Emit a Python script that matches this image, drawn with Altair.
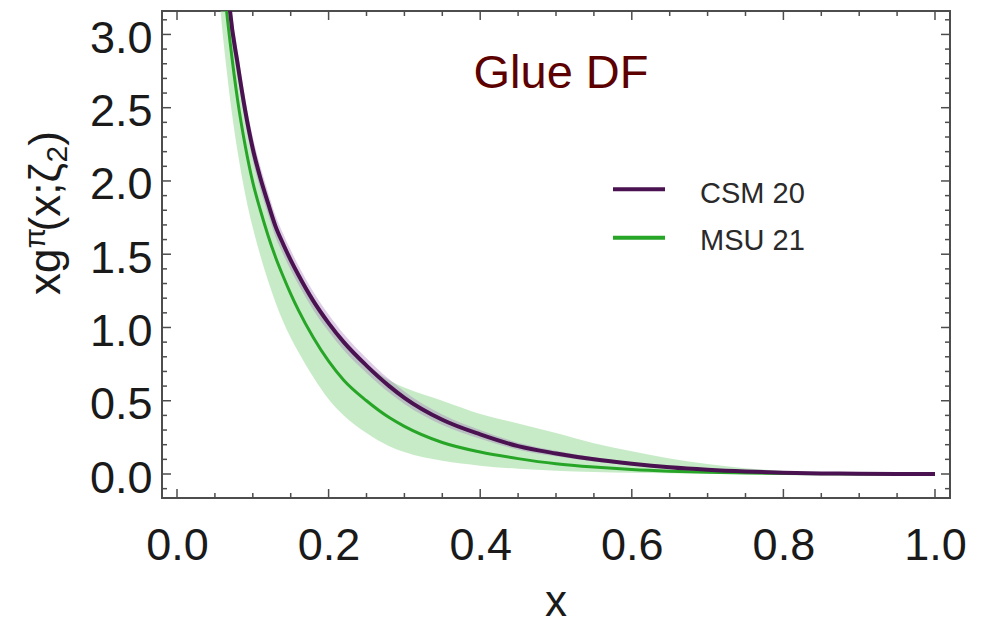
import altair as alt
import pandas as pd

# ---------------- data ----------------
x_vals = [0.055, 0.06, 0.065, 0.07, 0.08, 0.09, 0.10, 0.11, 0.12, 0.13, 0.14, 0.15,
          0.16, 0.18, 0.20, 0.22, 0.25, 0.28, 0.30, 0.35, 0.40, 0.45, 0.50, 0.55,
          0.60, 0.65, 0.70, 0.75, 0.80, 0.85, 0.90, 0.95, 1.00]

csm_mid = [4.25, 3.85, 3.48, 3.16, 2.80, 2.48, 2.22, 2.02, 1.85, 1.69, 1.57, 1.46,
           1.36, 1.18, 1.03, 0.90, 0.74, 0.60, 0.52, 0.37, 0.27, 0.19, 0.14, 0.10,
           0.07, 0.046, 0.029, 0.017, 0.009, 0.004, 0.0015, 0.0004, 0.0]
csm_hi = [4.35, 3.95, 3.58, 3.26, 2.89, 2.565, 2.30, 2.098, 1.925, 1.763, 1.64, 1.528,
          1.425, 1.242, 1.088, 0.955, 0.79, 0.646, 0.563, 0.406, 0.30, 0.214, 0.159, 0.115,
          0.081, 0.054, 0.035, 0.021, 0.012, 0.006, 0.0025, 0.0009, 0.0]
csm_lo = [4.15, 3.75, 3.38, 3.06, 2.71, 2.395, 2.14, 1.942, 1.775, 1.617, 1.50, 1.392,
          1.295, 1.118, 0.972, 0.845, 0.69, 0.554, 0.477, 0.334, 0.24, 0.166, 0.121, 0.085,
          0.059, 0.038, 0.023, 0.013, 0.006, 0.002, 0.0005, 0.0, 0.0]

msu_mid = [3.75, 3.45, 3.18, 2.95, 2.55, 2.24, 1.99, 1.80, 1.63, 1.48, 1.35, 1.23,
           1.12, 0.93, 0.77, 0.64, 0.50, 0.385, 0.325, 0.215, 0.15, 0.105, 0.07, 0.047,
           0.03, 0.019, 0.012, 0.007, 0.004, 0.002, 0.0008, 0.0002, 0.0]
msu_hi = [4.05, 3.72, 3.40, 3.10, 2.75, 2.44, 2.18, 1.98, 1.81, 1.66, 1.54, 1.43,
          1.33, 1.16, 1.02, 0.90, 0.75, 0.64, 0.59, 0.50, 0.41, 0.345, 0.28, 0.21,
          0.155, 0.105, 0.068, 0.04, 0.02, 0.009, 0.003, 0.001, 0.0]
msu_lo = [3.30, 3.02, 2.78, 2.56, 2.20, 1.91, 1.68, 1.49, 1.32, 1.17, 1.04, 0.93,
          0.835, 0.66, 0.51, 0.40, 0.28, 0.19, 0.15, 0.09, 0.057, 0.036, 0.023, 0.014,
          0.009, 0.005, 0.003, 0.0015, 0.0008, 0.0003, 0.0, 0.0, 0.0]

series_names = ["CSM 20", "MSU 21"]
series_colors = ["#4a1250", "#27a527"]
band_colors = ["#a070b8", "#8fd88f"]

x_major = [0.0, 0.2, 0.4, 0.6, 0.8, 1.0]
x_minor = [0.05, 0.1, 0.15, 0.25, 0.3, 0.35, 0.45, 0.5, 0.55, 0.65, 0.7, 0.75,
           0.85, 0.9, 0.95]
y_major = [0.0, 0.5, 1.0, 1.5, 2.0, 2.5, 3.0]
y_minor = [-0.1, 0.1, 0.2, 0.3, 0.4, 0.6, 0.7, 0.8, 0.9, 1.1, 1.2, 1.3, 1.4, 1.6,
           1.7, 1.8, 1.9, 2.1, 2.2, 2.3, 2.4, 2.6, 2.7, 2.8, 2.9, 3.1]

title_text = "Glue DF"
x_title = "x"
y_title_parts = ["xg", "\u03c0", "(x;\u03b6", "2", ")"]

# ---------------- layout / style ----------------
W, H = 788, 487
FONT = "Liberation Sans"
TICK_COLOR = "#4d4d4d"

xscale = alt.Scale(domain=[-0.0198, 1.0198], nice=False, zero=False)
yscale = alt.Scale(domain=[-0.1638, 3.160], nice=False, zero=False)

csm_df = pd.DataFrame({"x": x_vals, "y": csm_mid, "lo": csm_lo, "hi": csm_hi})
msu_df = pd.DataFrame({"x": x_vals, "y": msu_mid, "lo": msu_lo, "hi": msu_hi})

x_axis = alt.Axis(values=x_major, format=".1f", labelFontSize=45, labelFont=FONT,
                  labelColor="#1a1a1a", ticks=False, domain=False,
                  grid=False, labelPadding=25, title=None, labelFlush=False)
y_axis = alt.Axis(values=y_major, format=".1f", labelFontSize=45, labelFont=FONT,
                  labelColor="#1a1a1a", ticks=False, domain=False,
                  grid=False, labelPadding=10, labelOffset=4, title=None,
                  labelFlush=False)


def X(field):
    return alt.X(field, scale=xscale, axis=x_axis, title=None)


def Y(field):
    return alt.Y(field, scale=yscale, axis=y_axis, title=None)


msu_band = alt.Chart(msu_df).mark_area(
    color=band_colors[1], opacity=0.5, clip=True, interpolate="monotone"
).encode(x=X("x:Q"), y=Y("lo:Q"), y2="hi:Q")
csm_band = alt.Chart(csm_df).mark_area(
    color=band_colors[0], opacity=0.35, clip=True, interpolate="monotone"
).encode(x=X("x:Q"), y=Y("lo:Q"), y2="hi:Q")
msu_line = alt.Chart(msu_df).mark_line(
    color=series_colors[1], strokeWidth=3, clip=True, interpolate="monotone"
).encode(x=X("x:Q"), y=Y("y:Q"))
csm_line = alt.Chart(csm_df).mark_line(
    color=series_colors[0], strokeWidth=4, clip=True, interpolate="monotone"
).encode(x=X("x:Q"), y=Y("y:Q"))


def xticks(vals, length):
    df = pd.DataFrame({"x": vals})
    base = alt.Chart(df).mark_rule(color=TICK_COLOR, strokeWidth=1.5)
    bottom = base.encode(x=X("x:Q"), y=alt.value(H), y2=alt.value(H - length))
    top = base.encode(x=X("x:Q"), y=alt.value(0), y2=alt.value(length))
    return [bottom, top]


def yticks(vals, length):
    df = pd.DataFrame({"y": vals})
    base = alt.Chart(df).mark_rule(color=TICK_COLOR, strokeWidth=1.5)
    left = base.encode(y=Y("y:Q"), x=alt.value(0), x2=alt.value(length))
    right = base.encode(y=Y("y:Q"), x=alt.value(W), x2=alt.value(W - length))
    return [left, right]


tick_layers = xticks(x_major, 9) + xticks(x_minor, 5) + yticks(y_major, 9) + yticks(y_minor, 5)

# title inside the plot
title_layer = alt.Chart(pd.DataFrame({"t": [title_text]})).mark_text(
    font=FONT, fontSize=47, color="#5c0000", align="center", baseline="alphabetic"
).encode(x=alt.value(399), y=alt.value(77), text="t:N")

# x axis title
xtitle_layer = alt.Chart(pd.DataFrame({"t": [x_title]})).mark_text(
    font=FONT, fontSize=44, color="#1a1a1a", align="center", baseline="alphabetic"
).encode(x=alt.value(394), y=alt.value(605), text="t:N")

# y axis title, built from pieces (superscript pi, subscript 2)
ypart_specs = [  # (text index, font size, baseline x, start y)
    (0, 44, -102, 284),
    (1, 30, -117, 237.5),
    (2, 44, -102, 220.5),
    (3, 30, -95, 151.5),
    (4, 44, -102, 134.8),
]
ytitle_layers = []
for idx, fs, bx, sy in ypart_specs:
    ytitle_layers.append(
        alt.Chart(pd.DataFrame({"t": [y_title_parts[idx]]})).mark_text(
            font=FONT, fontSize=fs, color="#1a1a1a", align="left",
            baseline="alphabetic", angle=270
        ).encode(x=alt.value(bx), y=alt.value(sy), text="t:N")
    )

# legend
legend_layers = []
legend_line_y = [178.3, 226.7]
legend_text_y = [182.7, 229.7]
legend_widths = [4, 4]
for i, name in enumerate(series_names):
    df = pd.DataFrame({"name": [name]})
    legend_layers.append(
        alt.Chart(df).mark_rule(color=series_colors[i], strokeWidth=legend_widths[i]).encode(
            x=alt.value(451), x2=alt.value(503), y=alt.value(legend_line_y[i])
        )
    )
    legend_layers.append(
        alt.Chart(df).mark_text(
            font=FONT, fontSize=29, color="#2a2a2a", align="left", baseline="middle"
        ).encode(x=alt.value(538), y=alt.value(legend_text_y[i]), text="name:N")
    )

chart = alt.layer(
    msu_band, csm_band, msu_line, csm_line,
    *tick_layers, title_layer, xtitle_layer, *ytitle_layers, *legend_layers
).properties(
    width=W, height=H,
    autosize=alt.AutoSizeParams(type="none"),
    padding={"left": 154, "top": 3, "right": 23, "bottom": 127},
    background="white",
).configure_view(stroke="#4d4d4d", strokeWidth=2)

chart.save("out.html", embed_options={"renderer": "svg", "actions": False})
